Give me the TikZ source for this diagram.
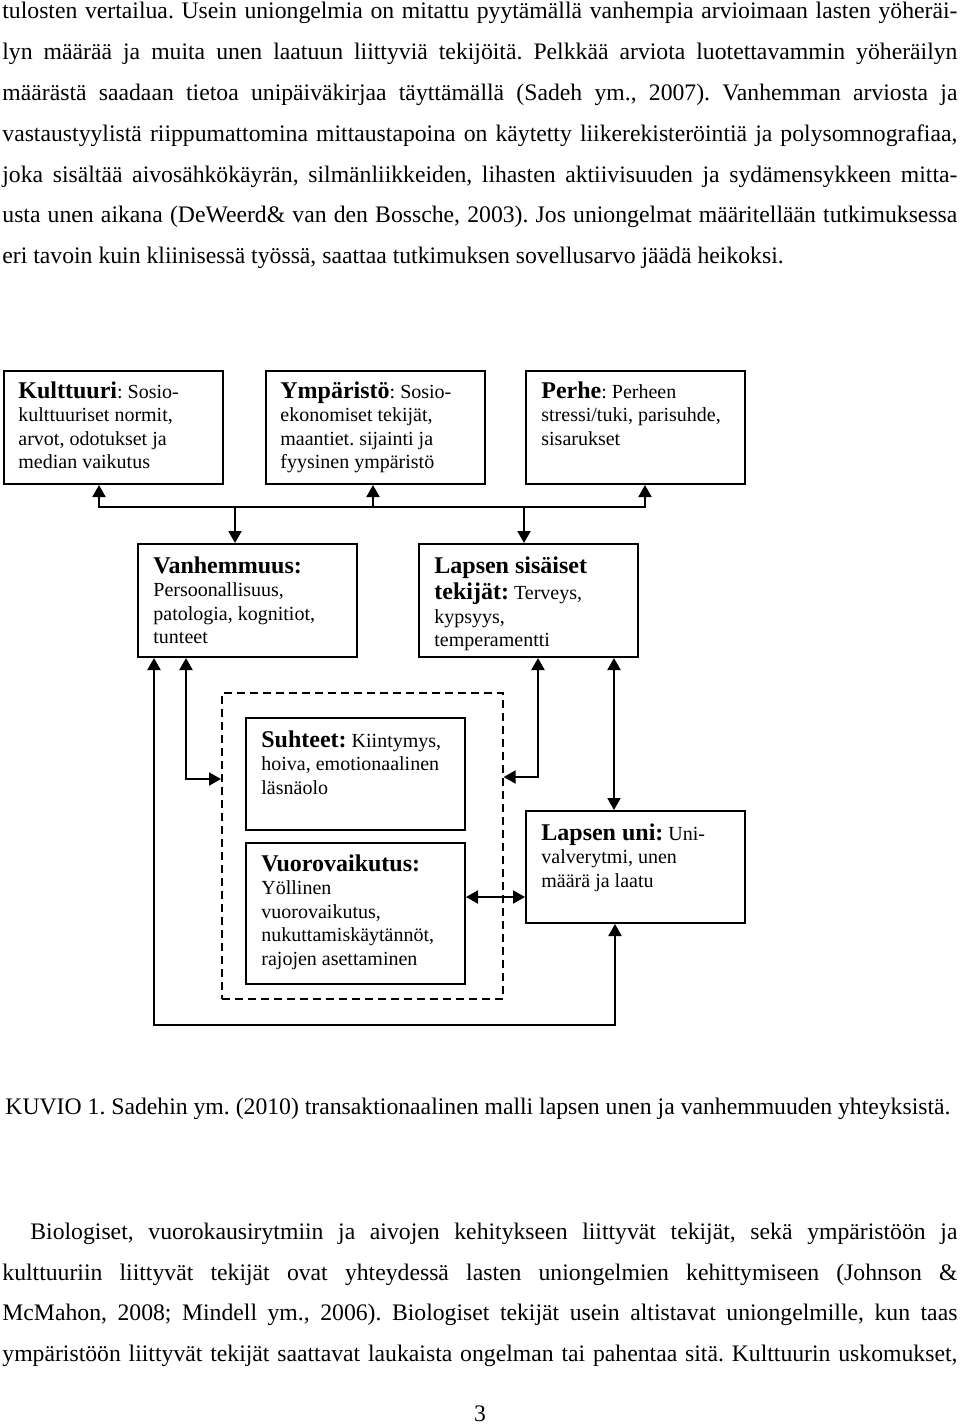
\documentclass[tikz,border=0pt]{standalone}
\usepackage{fontspec}
\setmainfont{Liberation Serif}
\usetikzlibrary{arrows.meta}
\frenchspacing
\begin{document}
\begin{tikzpicture}[x=0.5pt,y=-0.5pt,
  box/.style={draw, line width=1pt, inner sep=0pt, anchor=north west, minimum width=109.5pt, minimum height=56.5pt},
  dbox/.style={draw, line width=0.8pt, dash pattern=on 4pt off 2.5pt, inner sep=0pt, anchor=north west},
  btxt/.style={anchor=base west, inner sep=0pt, font=\fontsize{10}{11.75}\selectfont},
  ptxt/.style={anchor=base west, inner sep=0pt, font=\fontsize{11.85}{14}\selectfont},
  conn/.style={line width=1pt, {Triangle[length=6pt,width=6.5pt]}-{Triangle[length=6pt,width=6.5pt]}},
  arr/.style={line width=1pt, -{Triangle[length=6pt,width=6.5pt]}},
  plain/.style={line width=1pt},
]
\useasboundingbox (0,0) rectangle (960,1425);
\newcommand{\ttl}[1]{{\fontsize{12}{11.75}\selectfont\bfseries #1}}

% body text above
\node[ptxt] (t1) at (2,18) {\makebox[477.5pt][s]{tulosten vertailua. Usein uniongelmia on mitattu pyytämällä vanhempia arvioimaan lasten yöheräi-}};
\node[ptxt] (t2) at (2,59) {\makebox[477.5pt][s]{lyn määrää ja muita unen laatuun liittyviä tekijöitä. Pelkkää arviota luotettavammin yöheräilyn}};
\node[ptxt] (t3) at (2,100) {\makebox[477.5pt][s]{määrästä saadaan tietoa unipäiväkirjaa täyttämällä (Sadeh ym., 2007). Vanhemman arviosta ja}};
\node[ptxt] (t4) at (2,141) {\makebox[477.5pt][s]{vastaustyylistä riippumattomina mittaustapoina on käytetty liikerekisteröintiä ja polysomnografiaa,}};
\node[ptxt] (t5) at (2,182) {\makebox[477.5pt][s]{joka sisältää aivosähkökäyrän, silmänliikkeiden, lihasten aktiivisuuden ja sydämensykkeen mitta-}};
\node[ptxt] (t6) at (2,222) {\makebox[477.5pt][s]{usta unen aikana (DeWeerd\& van den Bossche, 2003). Jos uniongelmat määritellään tutkimuksessa}};
\node[ptxt] (t7) at (2,263) {eri tavoin kuin kliinisessä työssä, saattaa tutkimuksen sovellusarvo jäädä heikoksi.};

% boxes
\node[box] (ku) at (3,370) {};
\node[box] (ym) at (265,370) {};
\node[box] (pe) at (525,370) {};
\node[box] (va) at (137,543) {};
\node[box] (ls) at (418,543) {};
\node[dbox, minimum width=140.5pt, minimum height=153pt] (dsh) at (221,692) {};
\node[box, minimum height=56pt] (su) at (245,717) {};
\node[box, minimum height=70.5pt] (vu) at (245,842) {};
\node[box, minimum height=56pt] (lu) at (525,810) {};

% box texts
\node[btxt] (kut) at (18,398) {\parbox[t]{150pt}{\raggedright\ttl{Kulttuuri}: Sosio-\\kulttuuriset normit,\\arvot, odotukset ja\\median vaikutus}};
\node[btxt] (ymt) at (280,398) {\parbox[t]{150pt}{\raggedright\ttl{Ympäristö}: Sosio-\\ekonomiset tekijät,\\maantiet. sijainti ja\\fyysinen ympäristö}};
\node[btxt] (pet) at (541,398) {\parbox[t]{150pt}{\raggedright\ttl{Perhe}: Perheen\\stressi/tuki, parisuhde,\\sisarukset}};
\node[btxt] (vat) at (153,573) {\parbox[t]{150pt}{\raggedright\ttl{Vanhemmuus:}\\Persoonallisuus,\\patologia, kognitiot,\\tunteet}};
\node[btxt] (lst) at (434,573) {\parbox[t]{150pt}{\raggedright\ttl{Lapsen sisäiset}\\[1.5pt]\ttl{tekijät:} Terveys,\\kypsyys,\\temperamentti}};
\node[btxt] (sut) at (261,747) {\parbox[t]{150pt}{\raggedright\ttl{Suhteet:} Kiintymys,\\hoiva, emotionaalinen\\läsnäolo}};
\node[btxt] (vut) at (261,871) {\parbox[t]{150pt}{\raggedright\ttl{Vuorovaikutus:}\\Yöllinen\\vuorovaikutus,\\nukuttamiskäytännöt,\\rajojen asettaminen}};
\node[btxt] (lut) at (541,840) {\parbox[t]{150pt}{\raggedright\ttl{Lapsen uni:} Uni-\\valverytmi, unen\\määrä ja laatu}};

% top bus
\coordinate (b1) at (99,507);
\coordinate (b2) at (645,507);
\coordinate (bym) at (373,507);
\coordinate (bva) at (235,507);
\coordinate (bls) at (524,507);
\draw[conn] (b1 |- ku.south) -- (b1) -- (b2) -- (b2 |- pe.south);
\draw[arr] (bym) -- (bym |- ym.south);
\draw[arr] (bva) -- (bva |- va.north);
\draw[arr] (bls) -- (bls |- ls.north);

% outer loop
\coordinate (o1) at (154,1025);
\coordinate (o2) at (615,1025);
\draw[conn] (o1 |- va.south) -- (o1) -- (o2) -- (o2 |- lu.south);

% vanhemmuus to dashed
\coordinate (l1) at (186,779);
\draw[conn] (l1 |- va.south) -- (l1) -- (l1 -| dsh.west);

% lapsen sisaiset to dashed
\coordinate (r1) at (538,777);
\draw[conn] (r1 |- ls.south) -- (r1) -- (r1 -| dsh.east);

% lapsen sisaiset to lapsen uni
\coordinate (m1) at (614,730);
\draw[conn] (m1 |- ls.south) -- (m1 |- lu.north);

% vuorovaikutus to lapsen uni
\coordinate (h1) at (490,897);
\draw[conn] (h1 -| vu.east) -- (h1 -| lu.west);

% caption
\node[ptxt] (cap) at (5,1114) {KUVIO 1. Sadehin ym. (2010) transaktionaalinen malli lapsen unen ja vanhemmuuden yhteyksistä.};

% body text below
\node[ptxt] (u1) at (30,1239) {\makebox[463.5pt][s]{Biologiset, vuorokausirytmiin ja aivojen kehitykseen liittyvät tekijät, sekä ympäristöön ja}};
\node[ptxt] (u2) at (2,1280) {\makebox[477.5pt][s]{kulttuuriin liittyvät tekijät ovat yhteydessä lasten uniongelmien kehittymiseen (Johnson \&}};
\node[ptxt] (u3) at (2,1320) {\makebox[477.5pt][s]{McMahon, 2008; Mindell ym., 2006). Biologiset tekijät usein altistavat uniongelmille, kun taas}};
\node[ptxt] (u4) at (2,1361) {\makebox[477.5pt][s]{ympäristöön liittyvät tekijät saattavat laukaista ongelman tai pahentaa sitä. Kulttuurin uskomukset,}};

\node[ptxt, anchor=base] (pg) at (480,1421) {3};
\end{tikzpicture}
\end{document}
